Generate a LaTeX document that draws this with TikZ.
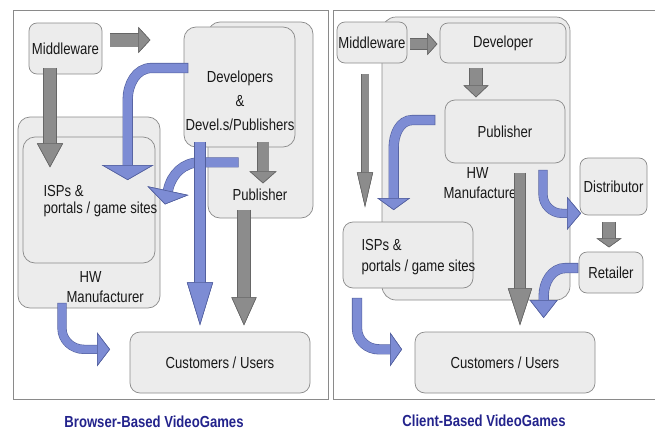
\documentclass[tikz,border=0pt]{standalone}
\usepackage{fontspec}
\setmainfont{Liberation Sans}[FakeStretch=0.82]
\usetikzlibrary{arrows.meta}

\definecolor{boxfill}{HTML}{ECECEC}
\definecolor{boxline}{HTML}{8A8A8A}
\definecolor{frameline}{HTML}{8A8A8A}
\definecolor{bluefill}{HTML}{7D8CD4}
\definecolor{blueline}{HTML}{53609E}
\definecolor{grayfill}{HTML}{8C8C8C}
\definecolor{grayline}{HTML}{666666}
\definecolor{titleblue}{HTML}{23238C}

\tikzset{
  box/.style={draw=boxline, fill=boxfill, line width=0.7pt, rounded corners=8pt, inner sep=0pt},
  % block arrow: fill, outline, shaft width, head length, head width
  flow/.style n args={5}{draw=#2, line width=#3+1.2pt, shorten <=-0.6pt,
    -{Triangle[length=#4, width=#5, line width=0.6pt, fill=#1, color=#2]},
    postaction={draw=#1, line width=#3, shorten <=0pt}},
  blueflow/.style n args={3}{flow={bluefill}{blueline}{#1}{#2}{#3}},
  grayflow/.style n args={3}{flow={grayfill}{grayline}{#1}{#2}{#3}},
  title/.style={font=\fontsize{16}{18}\selectfont\bfseries, text=titleblue},
}

\begin{document}
\begin{tikzpicture}[x=1pt, y=-1pt, font=\fontsize{16}{19}\selectfont, text=black!90]
\useasboundingbox (0,0) rectangle (655,431);

% frames (the right one runs off the page)
\draw[frameline, line width=0.8pt] (13,10) rectangle (328,399);
\draw[frameline, line width=0.8pt] (333,10) rectangle (658,399);

% browser based
\node[box, rounded corners=12pt, minimum width=142pt, minimum height=191pt] (hwL) at (89,212.5) {};
\node[box, rounded corners=12pt, minimum width=132pt, minimum height=126pt] (ispL) at (89,200) {};
\node[box, minimum width=73pt, minimum height=51pt] (mwL) at (65.5,48.5) {Middleware};
\node[box, rounded corners=12pt, minimum width=105pt, minimum height=196pt] (pubL) at (260.5,120) {};
\node[box, rounded corners=12pt, minimum width=111pt, minimum height=120pt] (devL) at (239.5,87) {};
\node[box, rounded corners=10pt, minimum width=180pt, minimum height=61pt] (custL) at (220,362.5) {Customers / Users};

\node[align=left, anchor=west, font=\fontsize{16}{20}\selectfont] (hwLtext) at (63,287) {\hspace*{13pt}HW\\Manufacturer};
\node[align=left, anchor=west, font=\fontsize{16}{17}\selectfont] (ispLtext) at (40,201) {ISPs \&\\portals / game sites};
\node (pubLtext) at (260,195) {Publisher};
\node[align=center, font=\fontsize{16}{24}\selectfont] (devLtext) at (240,101) {Developers\\\&\\Devel.s/Publishers};

\draw[grayflow={13pt}{12pt}{26pt}] ([shift={(8,-8.5)}]mwL.east) -- ++(40,0);
\draw[grayflow={12pt}{24pt}{26pt}] ([shift={(-15.5,-6)}]mwL.south) -- ++(0,99);
\draw[blueflow={9pt}{15pt}{52pt}] ([shift={(4,-19)}]devL.west) -- ++(-36,0)
  to[out=180, in=90] ++(-24,32) -- ++(0,80);
\draw[blueflow={9pt}{14pt}{42pt}] ([shift={(-1.5,15)}]devL.south) -- ++(-38,0)
  to[out=180, in=78] ++(-32,28) -- ++(-3,14);
\draw[blueflow={10pt}{43pt}{26pt}] ([shift={(-39.5,-5)}]devL.south) -- ++(0,183);
\draw[grayflow={11pt}{12pt}{27pt}] ([shift={(23.5,-5)}]devL.south) -- ++(0,41);
\draw[grayflow={12pt}{28pt}{25pt}] ([shift={(-16.5,-8)}]pubL.south) -- ++(0,115);
\draw[blueflow={8pt}{13pt}{34pt}] ([shift={(-27,-5)}]hwL.south) -- ++(0,25)
  to[out=-90, in=180] ++(22,21) -- ++(26,0);

\node[title] (titleL) at (154,422) {Browser-Based VideoGames};

% client based
\node[box, rounded corners=14pt, minimum width=188pt, minimum height=283pt] (hwR) at (476,158.5) {};
\node[box, minimum width=70pt, minimum height=41pt] (mwR) at (372,42.5) {Middleware};
\node[box, minimum width=126pt, minimum height=40pt] (devR) at (503,43) {Developer};
\node[box, rounded corners=10pt, minimum width=120pt, minimum height=63pt] (pubR) at (505,131.5) {Publisher};
\node[box, rounded corners=10pt, minimum width=130pt, minimum height=66pt] (ispR) at (408,255) {};
\node[box, minimum width=67pt, minimum height=57pt] (distR) at (613.5,186.5) {Distributor};
\node[box, minimum width=64pt, minimum height=41pt] (retR) at (611,272.5) {Retailer};
\node[box, rounded corners=10pt, minimum width=180pt, minimum height=61pt] (custR) at (505,362.5) {Customers / Users};

\node[align=left, anchor=west, font=\fontsize{16}{20}\selectfont] (hwRtext) at (440,183) {\hspace*{23pt}HW\\Manufacturer};
\node[align=left, anchor=west, font=\fontsize{16}{21}\selectfont] (ispRtext) at (358,257.5) {ISPs \&\\portals / game sites};

\draw[grayflow={10pt}{10pt}{22pt}] ([shift={(3,1.5)}]mwR.east) -- ++(27,0);
\draw[grayflow={12pt}{12pt}{25pt}] ([shift={(-27,5)}]devR.south) -- ++(0,29);
\draw[grayflow={7pt}{35pt}{16pt}] ([shift={(-7,11)}]mwR.south) -- ++(0,133);
\draw[blueflow={9pt}{12pt}{33pt}] ([shift={(-10,-11.5)}]pubR.west) -- ++(-22,0)
  to[out=180, in=90] ++(-19,28) -- ++(0,62);
\draw[grayflow={10pt}{37pt}{24pt}] ([shift={(15,10)}]pubR.south) -- ++(0,152);
\draw[blueflow={8pt}{14pt}{33pt}] ([shift={(38,7)}]pubR.south) -- ++(0,24)
  to[out=-90, in=180] ++(19,19) -- ++(19,0);
\draw[grayflow={12pt}{9pt}{25pt}] ([shift={(-4.5,7)}]distR.south) -- ++(0,25);
\draw[blueflow={9pt}{18pt}{28pt}] ([shift={(-1,-4.5)}]retR.west) -- ++(-12,0)
  to[out=180, in=90] ++(-22,28) -- ++(0,22);
\draw[blueflow={9pt}{12pt}{34pt}] ([shift={(-51,10)}]ispR.south) -- ++(0,30)
  to[out=-90, in=180] ++(22,21) -- ++(23,0);

\node[title] (titleR) at (484,421) {Client-Based VideoGames};
\end{tikzpicture}
\end{document}
